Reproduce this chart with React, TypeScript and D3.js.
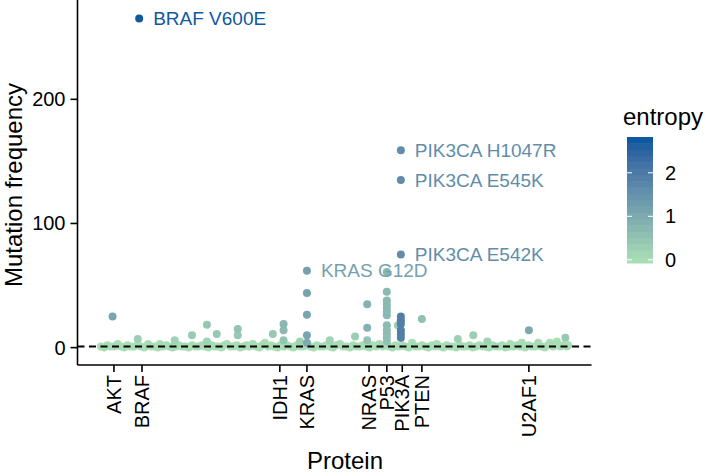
import React from 'react';
import * as d3 from 'd3';

// ---- data ----
const proteinTicks = ['AKT', 'BRAF', 'IDH1', 'KRAS', 'NRAS', 'P53', 'PIK3A', 'PTEN', 'U2AF1'];
const proteinTickPos = [28, 88, 383, 441, 574, 612, 645, 687, 916];

// low-frequency mutation sites forming the baseline band (entropy ~ 0)
const basePos = [0, 7, 14, 21, 29, 36, 43, 50, 57, 64, 71, 79, 86, 93, 101, 108, 115, 122, 126, 133, 140, 147, 153, 160, 167, 174, 181, 188, 195, 202, 209, 216, 223, 230, 237, 244, 251, 258, 264, 270, 277, 284, 291, 298, 305, 312, 318, 325, 332, 339, 345, 351, 358, 364, 371, 378, 384, 391, 398, 405, 412, 419, 426, 433, 441, 448, 455, 462, 469, 476, 483, 490, 497, 504, 512, 519, 526, 533, 540, 547, 554, 561, 568, 575, 582, 589, 596, 603, 610, 617, 624, 631, 638, 645, 652, 659, 666, 673, 680, 687, 694, 701, 708, 715, 719, 726, 733, 740, 747, 754, 761, 768, 775, 782, 789, 796, 803, 810, 817, 824, 831, 838, 845, 852, 859, 866, 873, 876, 883, 890, 897, 901, 908, 915, 922, 929, 936, 943, 950, 957, 961, 968, 976, 983, 990, 997, 1000];
const baseFreq = [1, 0, 2, 1, 1, 3, 1, 0, 2, 1, 1, 2, 1, 0, 3, 1, 1, 0, 3, 1, 2, 1, 0, 1, 2, 1, 1, 0, 2, 1, 1, 2, 1, 0, 2, 1, 1, 0, 2, 3, 1, 1, 2, 0, 1, 2, 1, 3, 1, 0, 2, 4, 1, 2, 1, 0, 2, 1, 2, 1, 0, 2, 1, 1, 2, 1, 0, 2, 1, 1, 2, 1, 0, 2, 3, 1, 1, 0, 2, 1, 1, 2, 1, 0, 2, 1, 3, 1, 2, 1, 0, 2, 1, 2, 1, 0, 4, 1, 1, 2, 1, 0, 2, 1, 3, 1, 0, 2, 1, 1, 0, 2, 1, 1, 2, 0, 1, 2, 1, 1, 0, 2, 1, 1, 2, 0, 1, 3, 1, 2, 1, 4, 0, 2, 1, 1, 4, 1, 0, 2, 4, 1, 5, 1, 2, 1, 2];

// other mutation sites
const sitePos = [25, 79, 158, 195, 227, 227, 248, 293, 293, 368, 391, 391, 391, 426, 441, 441, 441, 441, 490, 544, 570, 570, 570, 612, 612, 612, 612, 612, 612, 612, 612, 612, 612, 612, 612, 636, 642, 642, 642, 642, 642, 642, 687, 764, 797, 827, 916, 994];
const siteFreq = [25, 7, 6, 10, 18.5, 5, 11, 15, 10, 11, 19, 14, 6, 5, 44, 26.5, 10, 4, 6, 9, 35, 16, 6, 61, 45, 38, 35, 32, 29, 26, 18, 14, 11, 8, 5, 18, 25, 22, 19, 14, 11, 8, 23, 7, 10, 5, 14, 8];
const siteEntropy = [1.1, 0.3, 0.2, 0.35, 0.45, 0.2, 0.4, 0.5, 0.4, 0.4, 0.75, 0.7, 0.5, 0.2, 1.15, 1.1, 1.1, 1.0, 0.2, 0.3, 0.85, 0.85, 0.5, 0.75, 0.7, 0.7, 0.7, 0.7, 0.7, 0.7, 0.65, 0.65, 0.6, 0.6, 0.5, 0.4, 1.9, 1.9, 1.9, 1.9, 1.9, 1.9, 0.55, 0.25, 0.3, 0.2, 1.0, 0.4];

// labelled hotspots
const labelText = ['BRAF V600E', 'PIK3CA H1047R', 'PIK3CA E545K', 'PIK3CA E542K', 'KRAS G12D'];
const labelPos = [82, 642, 642, 642, 441];
const labelFreq = [265, 159, 135, 75, 62];
const labelEntropy = [2.75, 1.6, 1.6, 1.6, 1.2];

const yTicks = [0, 100, 200];
const entropyTicks = [0, 1, 2];
const entropyRange = [0, 2.75];
const cutoff = 1;

// ---- layout ----
const W = 709;
const H = 473;
const panel = { left: 77.5, right: 591.5, top: 0, bottom: 365 };
const FONT = '"Liberation Sans", Arial, Helvetica, sans-serif';
const R = 4;

export default function App() {
  const x = d3.scaleLinear().domain([-50, 1050]).range([panel.left, panel.right]);
  const y = d3.scaleLinear().domain([-14, 280]).range([panel.bottom, panel.top]);
  const color = d3
    .scaleLinear<string>()
    .domain(entropyRange)
    .range(['#A8DDB5', '#10599F'])
    .interpolate(d3.interpolateLab);

  type P = { p: number; f: number; e: number };
  const base: P[] = basePos.map((p, i) => ({ p, f: baseFreq[i], e: 0 }));
  const sites: P[] = sitePos
    .map((p, i) => ({ p, f: siteFreq[i], e: siteEntropy[i] }))
    .sort((a, b) => a.e - b.e);
  const labs = labelText.map((t, i) => ({ t, p: labelPos[i], f: labelFreq[i], e: labelEntropy[i] }));

  // legend
  const bar = { x: 627, y0: 137, y1: 263, w: 26 };
  const nbin = 20;
  const binH = (bar.y1 - bar.y0) / nbin;
  const bins = d3.range(nbin).map((i) => entropyRange[0] + ((entropyRange[1] - entropyRange[0]) * i) / (nbin - 1));
  const legY = d3
    .scaleLinear()
    .domain(entropyRange)
    .range([bar.y1 - binH / 2, bar.y0 + binH / 2]);

  return (
    <svg width={W} height={H} style={{ position: 'absolute', left: 0, top: 0, background: '#fff' }} fontFamily={FONT}>
      <rect width={W} height={H} fill="#fff" />
      {/* points */}
      {base.map((d, i) => (
        <circle key={'b' + i} cx={x(d.p)} cy={y(d.f)} r={R} fill={color(d.e)} />
      ))}
      {sites.map((d, i) => (
        <circle key={'s' + i} cx={x(d.p)} cy={y(d.f)} r={R} fill={color(d.e)} />
      ))}
      {labs.map((d, i) => (
        <circle key={'l' + i} cx={x(d.p)} cy={y(d.f)} r={R} fill={color(d.e)} />
      ))}
      {/* cutoff line */}
      <line
        x1={panel.left}
        x2={panel.right}
        y1={y(cutoff)}
        y2={y(cutoff)}
        stroke="#000"
        strokeWidth={2}
        strokeDasharray="7 4.5"
      />
      {/* labels */}
      {labs.map((d, i) => (
        <text
          key={'t' + i}
          x={x(d.p) + 14}
          y={y(d.f)}
          dy="0.35em"
          fontSize={19}
          fill={color(d.e)}
        >
          {d.t}
        </text>
      ))}
      {/* axes */}
      <line x1={panel.left} x2={panel.left} y1={panel.top} y2={panel.bottom} stroke="#000" strokeWidth={1.6} />
      <line x1={panel.left} x2={panel.right} y1={panel.bottom} y2={panel.bottom} stroke="#000" strokeWidth={1.6} />
      {yTicks.map((t) => (
        <g key={'yt' + t}>
          <line x1={panel.left - 7} x2={panel.left} y1={y(t)} y2={y(t)} stroke="#000" strokeWidth={1.6} />
          <text x={panel.left - 12} y={y(t)} dy="0.35em" textAnchor="end" fontSize={20} fill="#000">
            {t}
          </text>
        </g>
      ))}
      {proteinTicks.map((t, i) => {
        const px = x(proteinTickPos[i]);
        return (
          <g key={'xt' + t}>
            <line x1={px} x2={px} y1={panel.bottom} y2={panel.bottom + 7} stroke="#000" strokeWidth={1.6} />
            <text
              transform={`translate(${px},${panel.bottom + 10}) rotate(-90)`}
              dy="0.35em"
              textAnchor="end"
              fontSize={20}
              fill="#000"
            >
              {t}
            </text>
          </g>
        );
      })}
      <text x={345} y={469} textAnchor="middle" fontSize={24} fill="#000">
        Protein
      </text>
      <text transform={`translate(21.5,185) rotate(-90)`} textAnchor="middle" fontSize={24} fill="#000">
        Mutation frequency
      </text>
      {/* legend */}
      <text x={623} y={125} fontSize={24} fill="#000">
        entropy
      </text>
      {bins.map((v, i) => (
        <rect
          key={'bin' + i}
          x={bar.x}
          y={bar.y1 - (i + 1) * binH}
          width={bar.w}
          height={binH + 0.5}
          fill={color(v)}
        />
      ))}
      {entropyTicks.map((t) => (
        <g key={'lt' + t}>
          <line x1={bar.x} x2={bar.x + 5} y1={legY(t)} y2={legY(t)} stroke="#fff" strokeWidth={1} />
          <line x1={bar.x + bar.w - 5} x2={bar.x + bar.w} y1={legY(t)} y2={legY(t)} stroke="#fff" strokeWidth={1} />
          <text x={665} y={legY(t)} dy="0.35em" fontSize={20} fill="#000">
            {t}
          </text>
        </g>
      ))}
    </svg>
  );
}
